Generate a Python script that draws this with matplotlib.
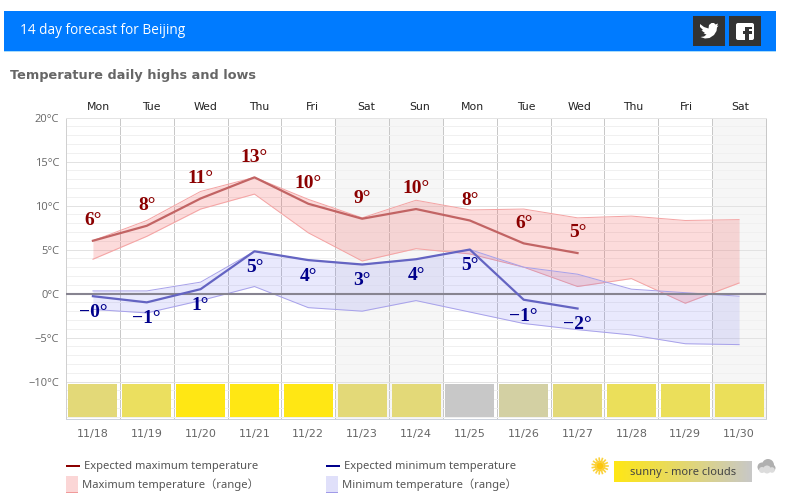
import numpy as np
import matplotlib
matplotlib.use("Agg")
import matplotlib.pyplot as plt
from matplotlib.patches import Rectangle, Circle, FancyBboxPatch, Polygon
from matplotlib.colors import LinearSegmentedColormap

# forecast data
days = ["Mon", "Tue", "Wed", "Thu", "Fri", "Sat", "Sun", "Mon", "Tue", "Wed", "Thu", "Fri", "Sat"]
dates = ["11/18", "11/19", "11/20", "11/21", "11/22", "11/23", "11/24", "11/25", "11/26", "11/27", "11/28", "11/29", "11/30"]
max_expected = [6.0, 7.7, 10.8, 13.2, 10.2, 8.5, 9.6, 8.3, 5.7, 4.6]
min_expected = [-0.3, -1.0, 0.5, 4.8, 3.8, 3.3, 3.9, 5.0, -0.7, -1.7]
max_labels = ["6°", "8°", "11°", "13°", "10°", "9°", "10°", "8°", "6°", "5°"]
min_labels = ["−0°", "−1°", "1°", "5°", "4°", "3°", "4°", "5°", "−1°", "−2°"]
max_high = [6.0, 8.3, 11.6, 13.2, 10.7, 8.6, 10.6, 9.5, 9.6, 8.6, 8.8, 8.3, 8.4]
max_low = [3.9, 6.5, 9.6, 11.3, 6.9, 3.7, 5.1, 4.5, 3.0, 0.8, 1.7, -1.1, 1.2]
min_high = [0.3, 0.3, 1.3, 4.8, 3.8, 3.3, 3.9, 5.0, 3.0, 2.2, 0.5, 0.1, -0.3]
min_low = [-1.8, -2.2, -0.8, 0.8, -1.6, -2.0, -0.8, -2.1, -3.4, -4.1, -4.7, -5.7, -5.8]
sky_colors = ["#e3d978", "#ebdf5f", "#ffe714", "#ffe714", "#ffe714", "#e3d978", "#e3d978",
              "#c8c8c8", "#d3d0a3", "#e3d978", "#ebdf5a", "#ebdf5a", "#ebdf5a"]
weekend = [5, 6, 12]

GREY = "#666666"
PX = 0.72  # one pixel in points at dpi 100


def draw_chart(fig):
    ax = fig.add_axes([66 / 796, 1 - 419 / 504, 700 / 796, 301.5 / 504])
    x = np.arange(len(dates)) + 0.5
    ax.set_xlim(0, len(dates))
    ax.set_ylim(-14.25, 20)
    for i in weekend:
        ax.axvspan(i, i + 1, color="#f6f6f6", lw=0, zorder=0)

    # grid
    ax.set_yticks(np.arange(-14, 21, 1), minor=True)
    ax.set_yticks(np.arange(-10, 21, 5))
    ax.set_yticklabels([f"{v}°C".replace("-", "−") for v in range(-10, 21, 5)],
                       fontsize=8, color=GREY, family="Open Sans")
    ax.set_xticks(np.arange(0, len(dates) + 1))
    ax.set_xticklabels([])
    ax.grid(which="minor", axis="y", color="#f0f0f0", lw=PX, zorder=1)
    ax.grid(which="major", axis="y", color="#e2e2e2", lw=PX, zorder=1)
    ax.grid(which="major", axis="x", color="#c8c8c8", lw=PX, zorder=1)
    ax.tick_params(which="both", length=0, pad=5)
    for side, col in zip(["left", "right", "top", "bottom"], ["#d0d0d0", "#c8c8c8", "#e4e4e4", "#ccd2dc"]):
        ax.spines[side].set_color(col)
        ax.spines[side].set_linewidth(PX)
    ax.axhline(0, color="#878490", lw=1.5, zorder=5)

    # ranges
    ax.fill_between(x, max_low, max_high, color="#f24d4d", alpha=0.2, lw=0, zorder=2)
    ax.plot(x, max_high, color="#f4a4a4", lw=PX, zorder=3)
    ax.plot(x, max_low, color="#f4a4a4", lw=PX, zorder=3)
    ax.fill_between(x, min_low, min_high, color="#5a5af0", alpha=0.13, lw=0, zorder=3)
    ax.plot(x, min_high, color="#a8a2ea", lw=PX, zorder=4)
    ax.plot(x, min_low, color="#a8a2ea", lw=PX, zorder=4)

    # expected lines and their labels
    xe = x[:len(max_expected)]
    ax.plot(xe, max_expected, color="#c26464", lw=1.6, zorder=6)
    ax.plot(xe, min_expected, color="#6464c2", lw=1.6, zorder=6)
    for xi, v, s in zip(xe, max_expected, max_labels):
        ax.annotate(s, (xi, v), xytext=(0, 14.5), textcoords="offset points", ha="center", va="center",
                    fontsize=14, fontweight="bold", family="Liberation Serif", color="#8b0000", zorder=8)
    for xi, v, s in zip(xe, min_expected, min_labels):
        ax.annotate(s, (xi, v), xytext=(0, -11.8), textcoords="offset points", ha="center", va="center",
                    fontsize=14, fontweight="bold", family="Liberation Serif", color="#00008b", zorder=8)

    # sky strip along the bottom
    ax.bar(x, [3.7] * len(x), bottom=-14.0, width=0.91, color=sky_colors, lw=0, zorder=7)

    # day and date labels
    for i, (d, t) in enumerate(zip(days, dates)):
        ax.text(i + 0.6 - i * 0.0065, 20.65, d, ha="center", va="bottom", fontsize=7.8, color="#222222")
        ax.text(i + 0.5, -16.0, t, ha="center", va="center", fontsize=8, color=GREY)


def draw_page(fig):
    # overlay in pixel coordinates for everything around the chart
    page = fig.add_axes([0, 0, 1, 1], zorder=10)
    page.set_xlim(0, 796)
    page.set_ylim(504, 0)
    page.axis("off")
    page.patch.set_alpha(0)

    page.add_patch(Rectangle((4, 11), 772, 40, color="#007bff", lw=0))
    page.add_patch(Rectangle((4, 51), 772, 1, color="#a8dcfa", lw=0))
    page.text(20, 31, "14 day forecast for Beijing", color="white", fontsize=9.8, family="Open Sans",
              ha="left", va="center")
    page.text(10, 75.5, "Temperature daily highs and lows", color=GREY, fontsize=9.3, fontweight="bold",
              ha="left", va="center")

    # share buttons
    page.add_patch(Rectangle((693, 16), 32, 30, color="#333333", lw=0))
    page.add_patch(Rectangle((729, 16), 32, 30, color="#333333", lw=0))
    bird = np.array([[700, 24], [704, 27], [708.5, 28.5], [709, 25], [711.5, 23], [714, 23], [715.5, 24.5],
                     [718, 23.5], [717, 26], [718.5, 25.5], [717, 27.5], [716.5, 31], [714, 35], [709.5, 38],
                     [705, 38.5], [700.5, 37], [704, 36.5], [706.5, 34.5], [703.5, 33.5], [705, 33], [701.5, 30.5],
                     [703, 30], [700, 27]])
    page.add_patch(Polygon(bird, closed=True, color="white", lw=0))
    page.add_patch(FancyBboxPatch((736, 23), 18, 17, boxstyle="round,pad=0,rounding_size=2", color="white", lw=0))
    page.add_patch(Rectangle((745, 27), 3.5, 13, color="#333333", lw=0))
    page.add_patch(Rectangle((743, 31), 9, 2.5, color="#333333", lw=0))
    page.add_patch(Rectangle((746, 26.5), 6, 2.5, color="#333333", lw=0))

    # legend
    page.add_patch(Rectangle((66, 465), 14, 2.2, color="#8b0000", lw=0))
    page.add_patch(Rectangle((326, 465), 14, 2.2, color="#00008b", lw=0))
    page.add_patch(Rectangle((66, 476), 12, 16.5, color="#fbd6d6", lw=0))
    page.add_patch(Rectangle((66, 492), 12, 0.8, color="#f09a9a", lw=0))
    page.add_patch(Rectangle((326, 476), 12, 16.5, color="#e0e0fa", lw=0))
    page.add_patch(Rectangle((326, 492), 12, 0.8, color="#a09ae8", lw=0))
    for tx, ty, s in [(84, 466, "Expected maximum temperature"), (344, 466, "Expected minimum temperature"),
                      (82, 485, "Maximum temperature（range）"), (342, 485, "Minimum temperature（range）")]:
        page.text(tx, ty, s, fontsize=8.05, color="#555555", ha="left", va="center",
                  family=["Noto Sans", "Noto Sans CJK SC"])

    # sunny to cloudy scale
    cmap = LinearSegmentedColormap.from_list("sky", ["#ffe714", "#c8c8c8"])
    page.imshow(np.linspace(0, 1, 256)[None, :], cmap=cmap, extent=(614, 752, 482, 461), aspect="auto", zorder=2)
    page.set_xlim(0, 796)
    page.set_ylim(504, 0)
    page.text(683, 472, "sunny - more clouds", fontsize=8, color="#444444", ha="center", va="center",
              family="Noto Sans", zorder=3)
    for a in np.arange(0, 360, 24):
        r = np.radians(a)
        page.plot([600 + 4 * np.cos(r), 600 + 7.8 * np.cos(r)],
                  [466 + 4 * np.sin(r), 466 + 7.8 * np.sin(r)], color="#fbd23c", lw=1.2)
    page.add_patch(Circle((600, 466), 5.2, color="#fbc50f", lw=0))
    for cx, cy, rad, col in [(768, 465, 6, "#b0b0b0"), (762, 467, 4.5, "#b0b0b0"), (772, 468, 3.5, "#b0b0b0"),
                             (762, 470, 3, "#dcdcdc"), (767, 469.5, 4, "#dcdcdc"), (772, 470, 2.8, "#dcdcdc")]:
        page.add_patch(Circle((cx, cy), rad, color=col, lw=0))


def main():
    fig = plt.figure(figsize=(7.96, 5.04), dpi=100, facecolor="white")
    draw_chart(fig)
    draw_page(fig)
    fig.savefig("out.png", dpi=100)


if __name__ == "__main__":
    main()
